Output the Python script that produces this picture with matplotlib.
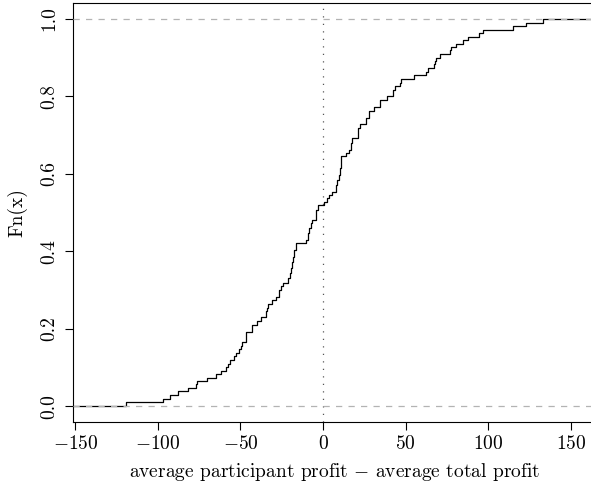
import numpy as np
import matplotlib
matplotlib.use("Agg")
import matplotlib.pyplot as plt

# ecdf of (average participant profit - average total profit)
jump_x = [-119.4, -96.7, -92.6, -88.0, -81.6, -77.1, -76.3, -70.5, -64.8, -62.0,
          -59.0, -57.6, -56.4, -54.0, -52.9, -50.9, -49.9, -48.9, -46.9, -46.5,
          -42.9, -39.9, -37.8, -34.8, -34.2, -33.2, -31.2, -28.8, -26.6, -25.7,
          -24.5, -21.1, -20.1, -19.5, -18.7, -18.1, -17.5, -16.7, -10.6, -9.4,
          -8.6, -7.6, -7.0, -4.0, -3.0, 0.4, 2.4, 3.4, 5.4, 7.7,
          8.7, 9.5, 10.5, 11.1, 14.1, 15.5, 16.7, 17.5, 21.1, 22.2,
          26.2, 27.6, 30.8, 34.3, 38.9, 42.3, 43.3, 46.3, 47.4, 54.8,
          62.4, 63.4, 67.1, 67.9, 68.5, 70.5, 77.0, 77.6, 80.6, 84.6,
          87.6, 94.4, 96.7, 114.8, 122.9, 132.9]
fn_level = [0.010, 0.019, 0.028, 0.038, 0.046, 0.056, 0.065, 0.073, 0.082, 0.092,
            0.100, 0.109, 0.118, 0.129, 0.138, 0.148, 0.156, 0.165, 0.176, 0.191,
            0.209, 0.219, 0.229, 0.245, 0.253, 0.264, 0.275, 0.283, 0.301, 0.309,
            0.319, 0.331, 0.344, 0.356, 0.373, 0.386, 0.404, 0.422, 0.429, 0.447,
            0.459, 0.472, 0.481, 0.507, 0.519, 0.526, 0.537, 0.545, 0.554, 0.571,
            0.584, 0.597, 0.614, 0.646, 0.654, 0.661, 0.680, 0.691, 0.717, 0.728,
            0.743, 0.762, 0.773, 0.790, 0.800, 0.816, 0.827, 0.834, 0.844, 0.854,
            0.863, 0.872, 0.882, 0.890, 0.899, 0.910, 0.920, 0.927, 0.936, 0.944,
            0.953, 0.962, 0.972, 0.981, 0.990, 1.000]

x_ticks = [-150, -100, -50, 0, 50, 100, 150]
x_tick_labels = ['$-150$', '$-100$', '$-50$', '$0$', '$50$', '$100$', '$150$']
y_ticks = [0.0, 0.2, 0.4, 0.6, 0.8, 1.0]
y_tick_labels = ['0.0', '0.2', '0.4', '0.6', '0.8', '1.0']

# the right edge of the plot box lies just past the picture's edge
XLIM = (-151.2, 164.8)
YLIM = (-0.04, 1.04)

plt.rcParams['font.family'] = 'serif'
plt.rcParams['font.serif'] = ['cmr10']
plt.rcParams['mathtext.fontset'] = 'cm'
plt.rcParams['font.size'] = 14

fig = plt.figure(figsize=(5.91, 4.88), dpi=100)
ax = fig.add_axes([0.124, 0.1359, 0.8834, 0.8574])

# step curve (verticals drawn, no points), extended to the plot edges
xs = np.concatenate([[XLIM[0]], jump_x, [XLIM[1]]])
ys = np.concatenate([[0.0], fn_level, [1.0]])
ax.step(xs, ys, where='post', color='black', linewidth=0.9, zorder=2)

ax.axhline(0, color='#b3b3b3', linestyle=(0, (5, 5)), linewidth=0.9, zorder=3)
ax.axhline(1, color='#b3b3b3', linestyle=(0, (5, 5)), linewidth=0.9, zorder=3)
ax.axvline(0, color='#555555', linestyle=(0, (1, 5)), linewidth=0.9, zorder=1)

ax.set_xlim(*XLIM)
ax.set_ylim(*YLIM)
ax.set_xticks(x_ticks)
ax.set_xticklabels(x_tick_labels)
ax.set_yticks(y_ticks)
ax.set_yticklabels(y_tick_labels, rotation=90, va='center')
ax.tick_params(direction='out', length=5.5, width=0.8)
ax.tick_params(axis='x', pad=4)
ax.tick_params(axis='y', pad=5)

for s in ax.spines.values():
    s.set_linewidth(0.8)

ax.set_xlabel('average participant profit $-$ average total profit', labelpad=6)
ax.set_ylabel('Fn(x)', labelpad=10)

fig.savefig('out.png', dpi=100)
